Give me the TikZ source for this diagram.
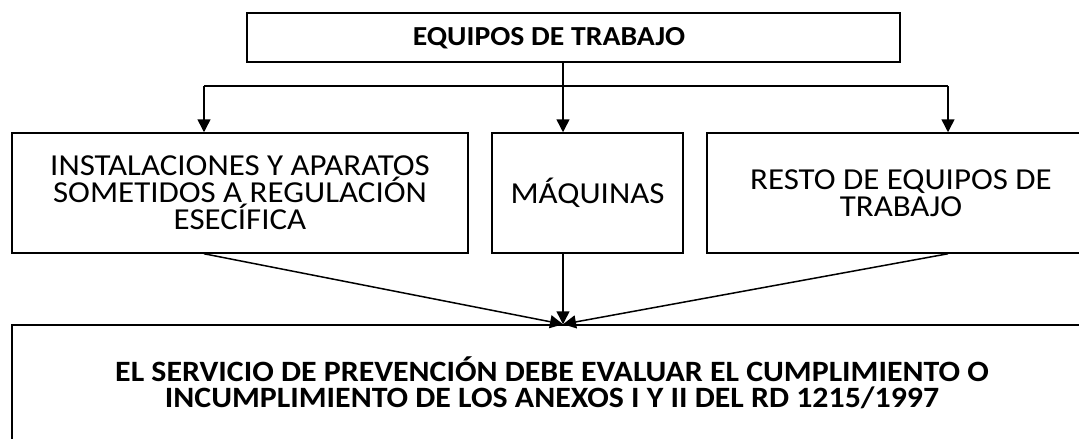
\documentclass[tikz,border=0pt]{standalone}
\usepackage{fontspec}
\setmainfont{Carlito}[FakeStretch=1.08]
\usetikzlibrary{arrows.meta}
\tikzset{
  caja/.style={draw, line width=1.5pt, inner sep=0pt},
  flecha/.style={line width=1.5pt, -{Triangle[length=13pt,width=13pt]}},
  linea/.style={line width=1.5pt},
  txt/.style={font=\fontsize{30.5}{27}\selectfont, align=center},
  txtb/.style={font=\fontsize{29.5}{25.5}\selectfont\bfseries, align=center}
}
\begin{document}
\begin{tikzpicture}[x=1pt,y=-1pt]
    \useasboundingbox (0,0) rectangle (1079,439);
    %%% boxes
    \node[caja, minimum width=653pt, minimum height=49pt] (top) at (573.5,37.5) {};
    \node[font=\fontsize{27.5}{30}\selectfont\bfseries] (toptxt) at (549,38) {EQUIPOS DE TRABAJO};
    \node[caja, txt, minimum width=456pt, minimum height=120pt] (inst) at (240,193)
      {INSTALACIONES Y APARATOS\\SOMETIDOS A REGULACIÓN\\ESECÍFICA};
    \node[caja, txt, minimum width=191pt, minimum height=120pt] (maq) at (587.5,193) {MÁQUINAS};
    \node[caja, txt, minimum width=388pt, minimum height=120pt] (resto) at (901,193)
      {RESTO DE EQUIPOS DE\\TRABAJO};
    \node[caja, minimum width=1080pt, minimum height=122pt] (serv) at (552,386) {};
    \node[txtb] (servtxt) at (552,383)
      {EL SERVICIO DE PREVENCIÓN DEBE EVALUAR EL CUMPLIMIENTO O\\INCUMPLIMIENTO DE LOS ANEXOS I Y II DEL RD 1215/1997};
    %%% connectors
    \coordinate (bl) at (204,86);
    \coordinate (bm) at (563,86);
    \coordinate (br) at (948,86);
    \coordinate (meta) at (bm |- serv.north);
    \draw[linea] (top.south -| bm) -- (bm);
    \draw[linea] (bl) -- (br);
    \draw[flecha] (bl) -- (bl |- inst.north);
    \draw[flecha] (bm) -- (bm |- maq.north);
    \draw[flecha] (br) -- (br |- resto.north);
    \draw[flecha] (bl |- inst.south) -- (meta);
    \draw[flecha] (bm |- maq.south) -- (meta);
    \draw[flecha] (br |- resto.south) -- (meta);
\end{tikzpicture}
\end{document}
